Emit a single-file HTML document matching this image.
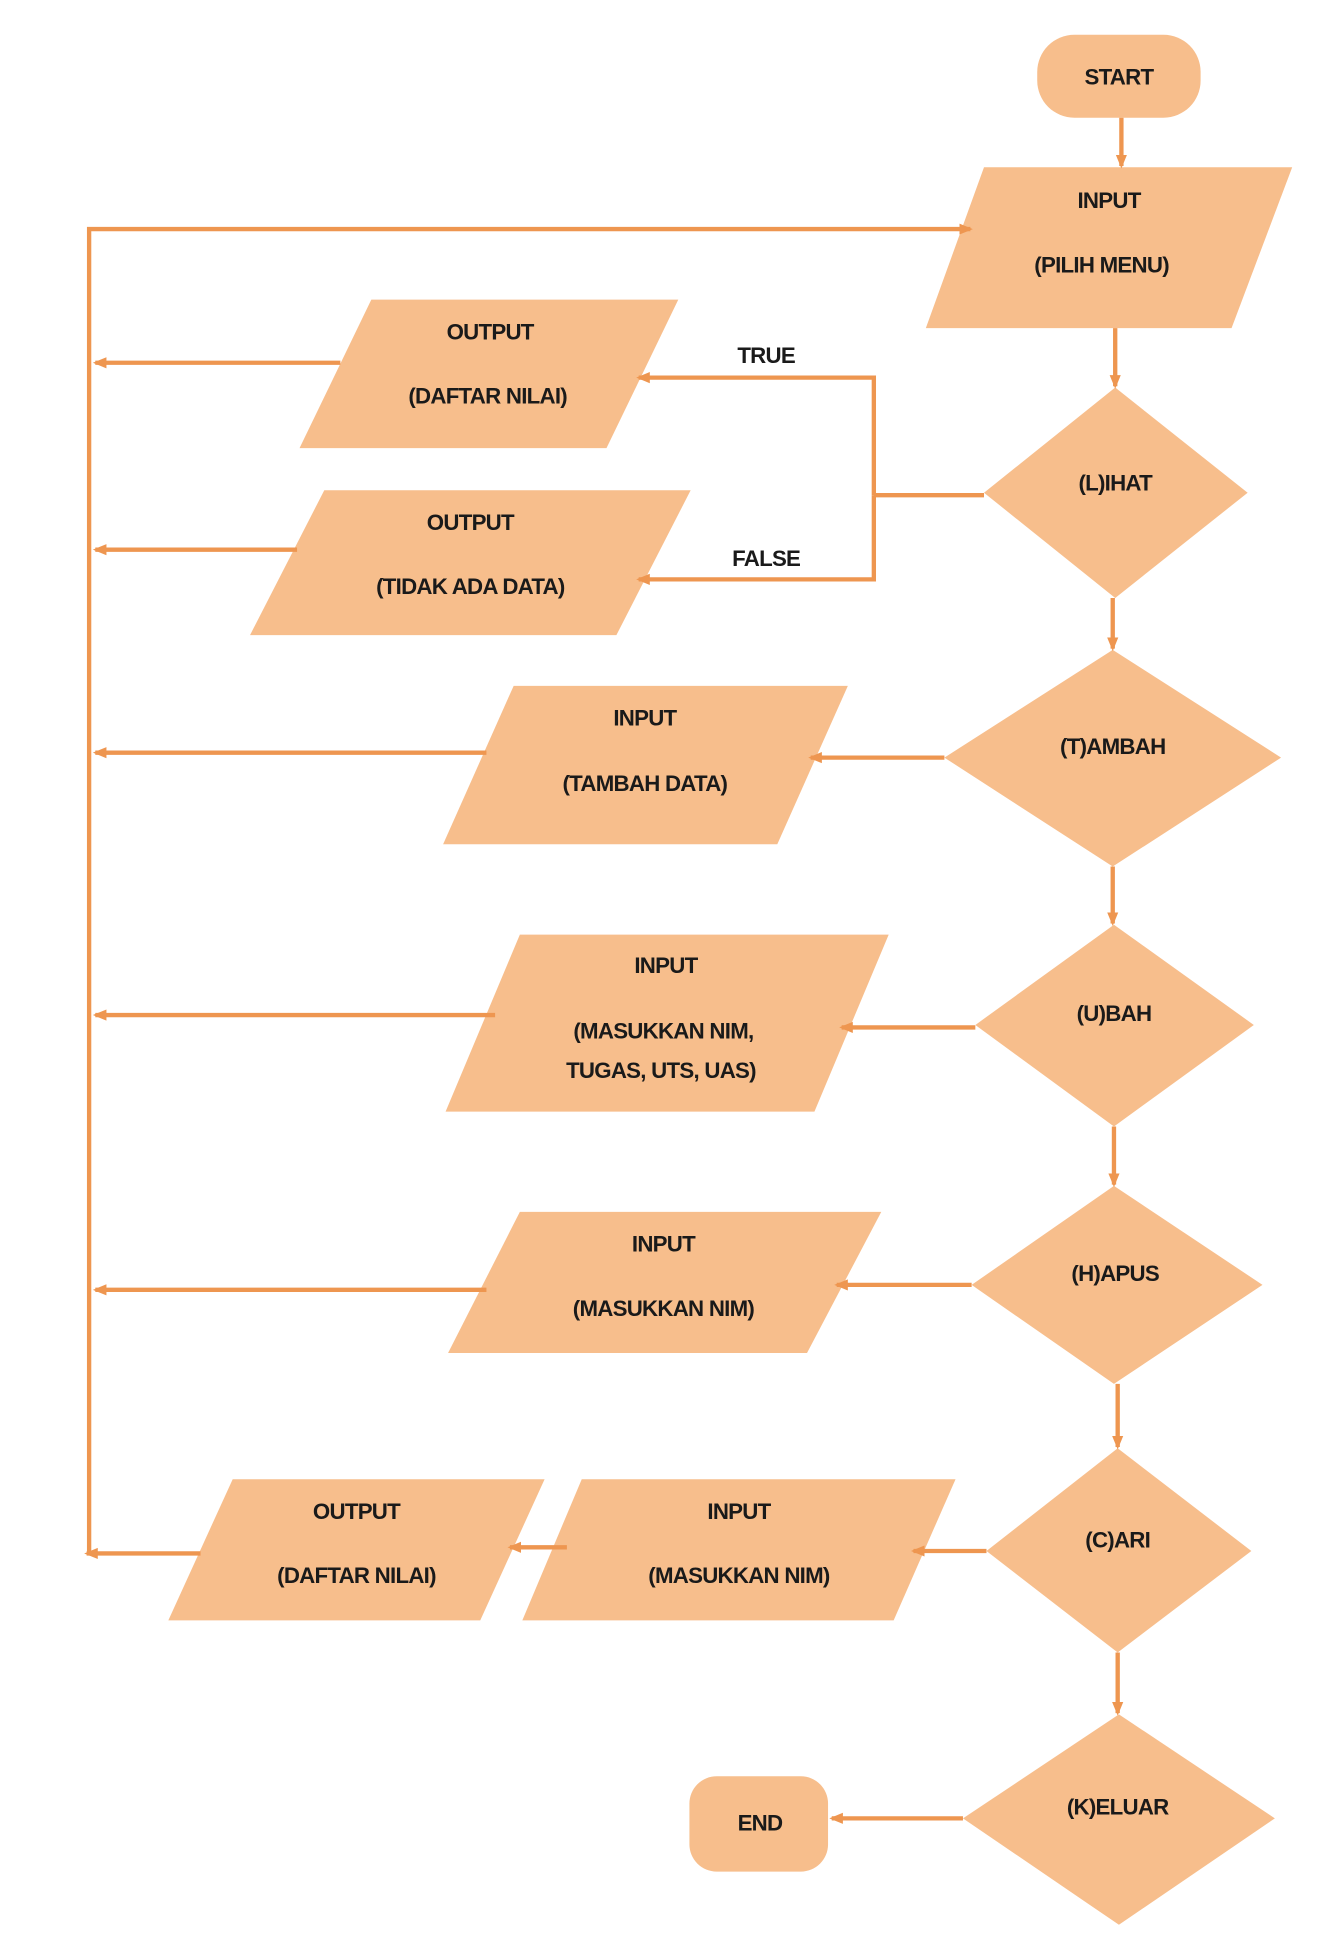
<!DOCTYPE html>
<html><head><meta charset="utf-8"><style>
html,body{margin:0;padding:0;background:#fff;}
svg{display:block;}
text{font-family:"Liberation Sans",sans-serif;font-weight:bold;font-size:18px;fill:#1a1a1a;text-anchor:middle;letter-spacing:-0.6px;}
</style></head><body>
<svg width="1338" height="1941" viewBox="0 0 1081 1568" xmlns="http://www.w3.org/2000/svg">
<defs>
<marker id="a" markerWidth="12" markerHeight="12" refX="9" refY="6" orient="auto" markerUnits="userSpaceOnUse">
<path d="M0,1.5 L11,6 L0,10.5 Z" fill="#EE9650"/>
</marker>
</defs>
<g fill="#F7BE8C">
<rect x="838" y="28" width="132" height="67" rx="30"/>
<polygon points="795,135 1044,135 995,265 748,265"/>
<polygon points="901,313 1008,398 901,483 795,398"/>
<polygon points="300,242 548,242 490,362 242,362"/>
<polygon points="262,396 558,396 498,513 202,513"/>
<polygon points="899,525 1035,612 899,700 763,612"/>
<polygon points="415,554 685,554 628,682 358,682"/>
<polygon points="900,747 1013,828 900,910 788,828"/>
<polygon points="420,755 718,755 658,898 360,898"/>
<polygon points="900,958 1020,1038 900,1118 785,1038"/>
<polygon points="420,979 712,979 652,1093 362,1093"/>
<polygon points="903,1170 1011,1253 903,1335 797,1253"/>
<polygon points="470,1195 772,1195 722,1309 422,1309"/>
<polygon points="188,1195 440,1195 388,1309 136,1309"/>
<polygon points="904,1385 1030,1469 904,1555 778,1469"/>
<rect x="557" y="1435" width="112" height="77" rx="22"/>
</g>
<g stroke="#EE9650" stroke-width="3.5" fill="none">
<line x1="906" y1="95" x2="906" y2="134" marker-end="url(#a)"/>
<polyline points="72,1255 72,185 784,185" marker-end="url(#a)"/>
<line x1="901" y1="265" x2="901" y2="312" marker-end="url(#a)"/>
<polyline points="795,400 706,400"/>
<polyline points="706,400 706,305 516,305" marker-end="url(#a)"/>
<polyline points="706,400 706,468 516,468" marker-end="url(#a)"/>
<line x1="275" y1="293" x2="77" y2="293" marker-end="url(#a)"/>
<line x1="240" y1="444" x2="77" y2="444" marker-end="url(#a)"/>
<line x1="899" y1="483" x2="899" y2="524" marker-end="url(#a)"/>
<line x1="763" y1="612" x2="655" y2="612" marker-end="url(#a)"/>
<line x1="393" y1="608" x2="77" y2="608" marker-end="url(#a)"/>
<line x1="899" y1="700" x2="899" y2="746" marker-end="url(#a)"/>
<line x1="788" y1="830" x2="680" y2="830" marker-end="url(#a)"/>
<line x1="400" y1="820" x2="77" y2="820" marker-end="url(#a)"/>
<line x1="900" y1="910" x2="900" y2="957" marker-end="url(#a)"/>
<line x1="785" y1="1038" x2="676" y2="1038" marker-end="url(#a)"/>
<line x1="393" y1="1042" x2="77" y2="1042" marker-end="url(#a)"/>
<line x1="903" y1="1118" x2="903" y2="1169" marker-end="url(#a)"/>
<line x1="797" y1="1253" x2="738" y2="1253" marker-end="url(#a)"/>
<line x1="458" y1="1250" x2="412" y2="1250" marker-end="url(#a)"/>
<line x1="162" y1="1255" x2="70" y2="1255" marker-end="url(#a)"/>
<line x1="903" y1="1335" x2="903" y2="1384" marker-end="url(#a)"/>
<line x1="778" y1="1469" x2="672" y2="1469" marker-end="url(#a)"/>
</g>
<text x="904" y="68">START</text>
<text x="896" y="168">INPUT</text>
<text x="890" y="220">(PILIH MENU)</text>
<text x="901" y="396">(L)IHAT</text>
<text x="619" y="293">TRUE</text>
<text x="619" y="457">FALSE</text>
<text x="396" y="274">OUTPUT</text>
<text x="394" y="326">(DAFTAR NILAI)</text>
<text x="380" y="428">OUTPUT</text>
<text x="380" y="480">(TIDAK ADA DATA)</text>
<text x="899" y="609">(T)AMBAH</text>
<text x="521" y="586">INPUT</text>
<text x="521" y="639">(TAMBAH DATA)</text>
<text x="900" y="825">(U)BAH</text>
<text x="538" y="786">INPUT</text>
<text x="536" y="839">(MASUKKAN NIM,</text>
<text x="534" y="871">TUGAS, UTS, UAS)</text>
<text x="901" y="1035">(H)APUS</text>
<text x="536" y="1011">INPUT</text>
<text x="536" y="1063">(MASUKKAN NIM)</text>
<text x="903" y="1250">(C)ARI</text>
<text x="597" y="1227">INPUT</text>
<text x="597" y="1279">(MASUKKAN NIM)</text>
<text x="288" y="1227">OUTPUT</text>
<text x="288" y="1279">(DAFTAR NILAI)</text>
<text x="903" y="1466">(K)ELUAR</text>
<text x="614" y="1479">END</text>
</svg>
</body></html>
